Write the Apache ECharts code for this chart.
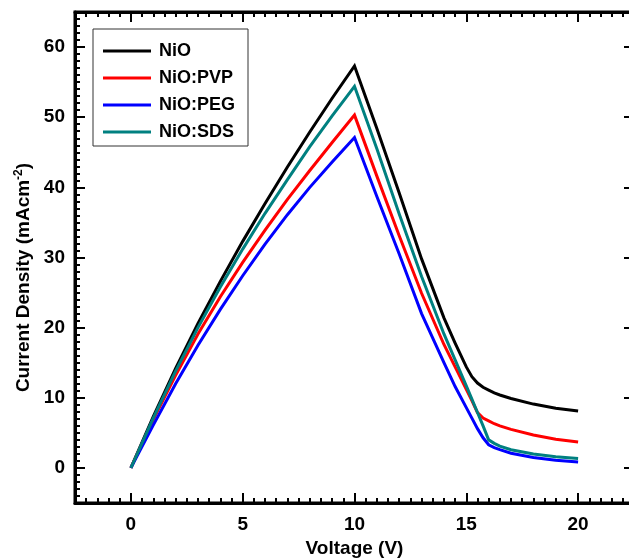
<!DOCTYPE html>
<html><head><meta charset="utf-8">
<script src="https://cdn.jsdelivr.net/npm/echarts@6/dist/echarts.min.js"></script>
<style>html,body{margin:0;padding:0;background:#fff}#c{width:629px;height:560px}</style>
</head><body><div id="c"></div>
<script>
// ---- data ----
const voltage = [0,1,2,3,4,5,6,7,8,9,10,11,12,13,14,14.5,15,15.25,15.5,15.75,16,16.25,16.5,17,18,19,20];
const nio    = [0,7.3,14.2,20.6,26.6,32.3,37.7,42.9,47.9,52.7,57.3,48.4,39.2,29.8,21.4,17.8,14.4,13.0,12.1,11.5,11.1,10.7,10.4,9.9,9.1,8.5,8.1];
const nioPVP = [0,6.9,13.2,19.1,24.4,29.3,33.9,38.3,42.4,46.4,50.3,41.6,33.1,24.9,17.6,14.4,11.2,9.6,7.9,7.1,6.7,6.3,6.0,5.5,4.7,4.1,3.7];
const nioPEG = [0,6.1,12.0,17.5,22.6,27.4,31.9,36.1,40.0,43.6,47.1,38.7,30.5,22.0,15.0,11.6,8.6,7.1,5.6,4.3,3.3,2.9,2.6,2.1,1.5,1.1,0.85];
const nioSDS = [0,7.1,13.8,20.0,25.8,31.2,36.3,41.1,45.8,50.2,54.4,45.5,36.2,27.3,19.1,15.4,11.7,9.8,7.9,6.0,4.0,3.5,3.1,2.6,2.0,1.6,1.35];
const seriesNames  = ['NiO','NiO:PVP','NiO:PEG','NiO:SDS'];
const seriesValues = [nio, nioPVP, nioPEG, nioSDS];
const seriesColors = ['#000000','#ff0000','#0000ff','#008080'];
const xTickLabels = [0,5,10,15,20];
const yTickLabels = [0,10,20,30,40,50,60];

const FONT = '"Liberation Sans", Arial, Helvetica, sans-serif';
const chart = echarts.init(document.getElementById('c'), null, {renderer:'canvas'});
const pairs = ys => voltage.map((v,i)=>[v, ys[i]]);

function axisBase(extra){
  return Object.assign({
    type:'value',
    axisLine:{show:true,onZero:false,lineStyle:{color:'#000',width:3}},
    axisTick:{show:true,inside:true,length:10,lineStyle:{color:'#000',width:2}},
    minorTick:{show:true,splitNumber:10,length:5,lineStyle:{color:'#000',width:2}},
    splitLine:{show:false}, minorSplitLine:{show:false}
  }, extra);
}
const labelStyle = {fontSize:19,fontWeight:'bold',color:'#000',fontFamily:FONT};

chart.setOption({
  animation:false,
  grid:{left:75, top:12, width:559, height:491, show:true, borderColor:'#000', borderWidth:3,
        containLabel:false, outerBoundsMode:'none'},
  legend:{
    left:93, top:29, orient:'vertical', data:seriesNames, icon:'rect',
    itemWidth:48, itemHeight:3, itemGap:7, padding:[12,13,4,10],
    borderColor:'#333', borderWidth:1, backgroundColor:'#fff',
    textStyle:{fontSize:18,fontWeight:'bold',color:'#000',fontFamily:FONT,lineHeight:20,padding:[0,0,0,3]}
  },
  xAxis:[
    axisBase({position:'bottom', min:-2.5, max:22.5, splitNumber:5,
      axisLabel:Object.assign({margin:12, formatter:v => xTickLabels.includes(v) ? String(v) : ''}, labelStyle),
      name:'Voltage (V)', nameLocation:'middle', nameGap:35,
      nameTextStyle:{fontSize:19,fontWeight:'bold',color:'#000',fontFamily:FONT}}),
    axisBase({position:'top', min:-2.5, max:22.5, splitNumber:5, axisLabel:{show:false}})
  ],
  yAxis:[
    axisBase({position:'left', min:-5, max:65, splitNumber:7,
      axisLabel:Object.assign({margin:10, formatter:v => yTickLabels.includes(v) ? String(v) : ''}, labelStyle),
      name:'{a|Current Density (mAcm}{s|-2}{a|)}', nameLocation:'middle', nameGap:40,
      nameTextStyle:{padding:[0,40,0,0], rich:{
        a:{fontSize:19,fontWeight:'bold',color:'#000',fontFamily:FONT},
        s:{fontSize:12,fontWeight:'bold',color:'#000',fontFamily:FONT,padding:[0,0,9,0]}
      }}}),
    axisBase({position:'right', min:-5, max:65, splitNumber:7, axisLabel:{show:false}})
  ],
  series: seriesNames.map((n,i)=>({
    name:n, type:'line', xAxisIndex:0, yAxisIndex:0, data:pairs(seriesValues[i]),
    showSymbol:false, symbol:'none', smooth:false, color:seriesColors[i],
    lineStyle:{color:seriesColors[i], width:3, join:'miter'}
  }))
});
</script></body></html>
